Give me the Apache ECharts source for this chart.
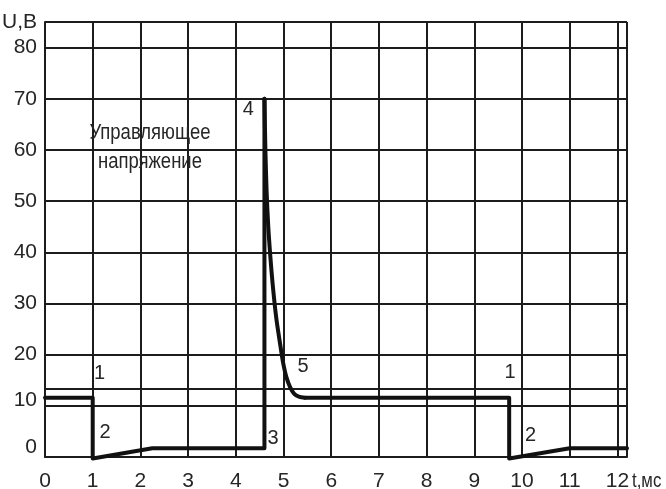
<!DOCTYPE html>
<html>
<head>
<meta charset="utf-8">
<script src="https://cdn.jsdelivr.net/npm/echarts@6/dist/echarts.min.js"></script>
<style>
  html, body { margin: 0; padding: 0; background: #fff; }
  #chart { width: 666px; height: 489px; }
</style>
</head>
<body>
<div id="chart"></div>
<script>
// Waveform, part 1: level, drop, slow rise, then the step up to the peak (ms, V)
const riseTime = [0, 1.0, 1.0, 2.25, 4.6, 4.6];
const riseVolt = [11.6, 11.6, -0.3, 1.7, 1.7, 70];

// Part 2: decay from the peak back to the plateau
const decayTime = [4.6, 4.62, 4.645, 4.68, 4.725, 4.78, 4.85, 4.93, 4.99, 5.06, 5.14, 5.22, 5.32, 5.45];
const decayVolt = [70, 60, 52, 45, 39, 33, 27, 22, 18.5, 15.6, 13.6, 12.4, 11.8, 11.6];

// Part 3: plateau, second drop and slow rise
const tailTime = [5.45, 9.73, 9.73, 11.0, 12.2];
const tailVolt = [11.6, 11.6, -0.3, 1.7, 1.7];

// Extra horizontal rule across the plot
const referenceLevel = 13.3;

// Axis extents and tick labels
const xMax = 12.2;
const yMax = 85;
const xTickLabels = ['0', '1', '2', '3', '4', '5', '6', '7', '8', '9', '10', '11', '12'];
const yTickLabels = ['0', '10', '20', '30', '40', '50', '60', '70', '80'];
const yAxisTitle = 'U,B';
const xAxisTitle = 't,мс';

// Numbered points on the waveform
const markX = [1.145, 1.26, 4.78, 4.26, 5.41, 9.75, 10.18];
const markY = [16.3, 4.7, 3.6, 68.0, 17.6, 16.6, 4.3];
const markText = ['1', '2', '3', '4', '5', '1', '2'];

// Caption inside the plot
const captionX = 2.2;
const captionLines = ['Управляющее', 'напряжение'];
const captionY = [63.3, 57.7];

const FONT = "'Liberation Sans', Arial, sans-serif";
const TEXT = '#262626';
const GRID = '#1c1c1c';
const TRACE = '#111111';
const LABEL_MARGIN = 14;

const chart = echarts.init(document.getElementById('chart'), null, { renderer: 'canvas' });

const traceStyle = { color: TRACE, width: 4, join: 'round', cap: 'round' };

chart.setOption({
  backgroundColor: '#ffffff',
  animation: false,
  grid: { left: 45, right: 39, top: 22, bottom: 32, outerBoundsMode: 'none', containLabel: false },
  xAxis: {
    type: 'value',
    min: 0,
    max: xMax,
    interval: 1,
    axisLine: { show: true, lineStyle: { color: GRID, width: 2 } },
    axisTick: { show: false },
    splitLine: { show: true, lineStyle: { color: GRID, width: 2 } },
    axisLabel: {
      margin: LABEL_MARGIN,
      fontFamily: FONT,
      fontSize: 21,
      color: TEXT,
      formatter: function (v) {
        const i = Math.round(v);
        return Math.abs(v - i) < 1e-6 && xTickLabels[i] !== undefined ? xTickLabels[i] : '';
      }
    }
  },
  yAxis: {
    type: 'value',
    min: 0,
    max: yMax,
    interval: 10,
    axisLine: { show: true, lineStyle: { color: GRID, width: 2 } },
    axisTick: { show: false },
    splitLine: { show: true, lineStyle: { color: GRID, width: 2 } },
    axisLabel: {
      margin: 8,
      fontFamily: FONT,
      fontSize: 21,
      color: TEXT,
      formatter: function (v) {
        if (v === yMax) return yAxisTitle;
        const i = Math.round(v / 10);
        const s = yTickLabels[i];
        if (s === undefined) return '';
        if (i === 0) return '{low|' + s + '}';
        if (i === 1) return '{mid|' + s + '}';
        return s;
      },
      rich: {
        low: { fontFamily: FONT, fontSize: 21, color: TEXT, padding: [0, 0, 20, 0] },
        mid: { fontFamily: FONT, fontSize: 21, color: TEXT, padding: [0, 0, 12, 0] }
      }
    }
  },
  series: [
    {
      type: 'line',
      data: riseTime.map((t, i) => [t, riseVolt[i]]),
      symbol: 'none',
      clip: false,
      lineStyle: traceStyle,
      z: 5,
      markLine: {
        silent: true,
        symbol: 'none',
        label: { show: false },
        lineStyle: { color: GRID, width: 2, type: 'solid' },
        data: [{ yAxis: referenceLevel }]
      }
    },
    {
      type: 'line',
      data: decayTime.map((t, i) => [t, decayVolt[i]]),
      symbol: 'none',
      smooth: 0.3,
      clip: false,
      lineStyle: traceStyle,
      z: 5
    },
    {
      type: 'line',
      data: tailTime.map((t, i) => [t, tailVolt[i]]),
      symbol: 'none',
      clip: false,
      lineStyle: traceStyle,
      z: 5
    },
    {
      type: 'scatter',
      symbolSize: 0,
      itemStyle: { opacity: 1 },
      data: markX.map((x, i) => ({ value: [x, markY[i]], name: markText[i] })),
      label: {
        show: true,
        position: 'inside',
        formatter: p => p.name,
        fontFamily: FONT,
        fontSize: 20,
        color: TEXT,
        opacity: 1
      },
      z: 6
    }
  ]
});

// Condensed lettering (caption and time-axis unit), placed through the axis scales
const captionGraphics = captionLines.map((line, i) => {
  const p = chart.convertToPixel({ gridIndex: 0 }, [captionX, captionY[i]]);
  return {
    type: 'text',
    x: p[0],
    y: p[1],
    scaleX: 0.84,
    z: 10,
    style: {
      text: line,
      fill: TEXT,
      fontFamily: FONT,
      fontSize: 22,
      align: 'center',
      verticalAlign: 'middle'
    }
  };
});

const axisEnd = chart.convertToPixel({ gridIndex: 0 }, [xMax, 0]);
const unitGraphic = {
  type: 'text',
  x: axisEnd[0] + 5,
  y: axisEnd[1] + LABEL_MARGIN,
  scaleX: 0.8,
  z: 10,
  style: {
    text: xAxisTitle,
    fill: TEXT,
    fontFamily: FONT,
    fontSize: 21,
    align: 'left',
    verticalAlign: 'top'
  }
};

chart.setOption({ graphic: captionGraphics.concat([unitGraphic]) });
</script>
</body>
</html>
